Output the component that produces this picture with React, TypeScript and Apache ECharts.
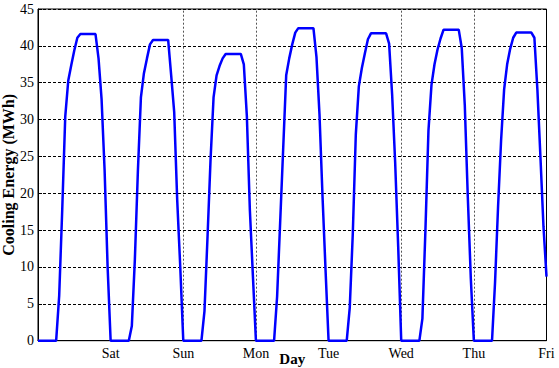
import React, { useEffect, useRef } from 'react';
import * as echarts from 'echarts';

// x tick labels (one per day boundary, hours 0..168)
const dayLabels = ['', 'Sat', 'Sun', 'Mon', 'Tue', 'Wed', 'Thu', 'Fri'];

// Hourly cooling energy (MWh), hours 0..23 of each day
const fri = [0, 0, 0, 0, 0, 0, 0, 6.1, 17.7, 30.4, 35.3, 37.4, 39.4, 41.1, 41.6, 41.6, 41.6, 41.6, 41.6, 41.6, 38.3, 32.8, 23.2, 10];
const sat = [0, 0, 0, 0, 0, 0, 0, 2, 11, 23, 33, 36.3, 38.3, 40.2, 40.8, 40.8, 40.8, 40.8, 40.8, 40.8, 36, 31, 19, 10];
const sun = [0, 0, 0, 0, 0, 0, 0, 4, 14, 24.5, 33, 36, 37.3, 38.3, 38.9, 38.9, 38.9, 38.9, 38.9, 38.9, 37.5, 30.5, 17.7, 8.8];
const mon = [0, 0, 0, 0, 0, 0, 0, 6, 16, 26, 36, 38.3, 40.2, 41.8, 42.4, 42.4, 42.4, 42.4, 42.4, 42.4, 38.5, 30.7, 19.6, 9.6];
const tue = [0, 0, 0, 0, 0, 0, 0, 4.5, 14.5, 28, 34.5, 37, 39, 40.9, 41.7, 41.7, 41.7, 41.7, 41.7, 41.7, 40.3, 33.4, 24.2, 12.8];
const wed = [0, 0, 0, 0, 0, 0, 0, 3, 15, 28.5, 34.7, 37.5, 39.5, 41, 42.2, 42.2, 42.2, 42.2, 42.2, 42.2, 39.7, 32, 19.5, 8.4];
const thu = [0, 0, 0, 0, 0, 0, 0, 7.9, 18.2, 27.2, 34.1, 37.5, 39.6, 41.1, 41.8, 41.8, 41.8, 41.8, 41.8, 41.8, 41.1, 34, 24.9, 15.5];
const endValue = 8.7; // value at hour 168

// days at which a vertical dotted grid line is visible
const gridDays = [2, 3, 5, 6];

const serif = 'Liberation Serif';

export default function App() {
  const ref = useRef<HTMLDivElement>(null);
  useEffect(() => {
    const chart = echarts.init(ref.current!, null, { renderer: 'svg' });
    const days = [fri, sat, sun, mon, tue, wed, thu];
    const data: number[][] = [];
    days.forEach((vals, d) => vals.forEach((v, h) => data.push([d * 24 + h, v])));
    data.push([168, endValue]);

    chart.setOption({
      animation: false,
      backgroundColor: '#fff',
      grid: {
        left: 38,
        right: 12.5,
        top: 9,
        bottom: 27.3,
        containLabel: false,
        outerBoundsMode: 'none',
        show: true,
        borderColor: '#000',
        borderWidth: 1,
        backgroundColor: 'transparent',
      },
      xAxis: {
        type: 'value',
        min: 0,
        max: 168,
        interval: 24,
        axisLine: { show: true, lineStyle: { color: '#000', width: 1 } },
        axisTick: { show: true, inside: true, length: 4, lineStyle: { color: '#000' } },
        axisLabel: {
          formatter: (v: number) => dayLabels[Math.round(v / 24)] ?? '',
          fontFamily: serif,
          fontSize: 14,
          color: '#000',
          margin: 6,
        },
        splitLine: { show: false },
        name: 'Day',
        nameLocation: 'middle',
        nameGap: 11,
        nameMoveOverlap: false,
        nameTextStyle: { fontFamily: serif, fontSize: 15, fontWeight: 'bold', color: '#000' },
      },
      yAxis: {
        type: 'value',
        min: 0,
        max: 45,
        interval: 5,
        axisLine: { show: true, lineStyle: { color: '#000', width: 1 } },
        axisTick: { show: true, inside: true, length: 4, lineStyle: { color: '#000' } },
        axisLabel: { fontFamily: serif, fontSize: 14, color: '#000', margin: 4 },
        splitLine: { show: true, lineStyle: { color: '#000', width: 1, type: [3, 2] } },
        name: 'Cooling Energy (MWh)',
        nameLocation: 'middle',
        nameGap: 22,
        nameMoveOverlap: false,
        nameTextStyle: { fontFamily: serif, fontSize: 16, fontWeight: 'bold', color: '#000' },
      },
      series: [
        {
          type: 'line',
          data,
          showSymbol: false,
          symbol: 'none',
          lineStyle: { color: '#0000ff', width: 2.5 },
          z: 3,
          markLine: {
            silent: true,
            symbol: ['none', 'none'],
            label: { show: false },
            lineStyle: { color: '#555', width: 1, type: [2, 2] },
            data: gridDays.map((d) => ({ xAxis: d * 24 })),
            z: 1,
          },
        },
      ],
    });
    return () => chart.dispose();
  }, []);
  return (
    <div
      ref={ref}
      style={{ position: 'fixed', left: 0, top: 0, width: 559, height: 368 }}
    />
  );
}
